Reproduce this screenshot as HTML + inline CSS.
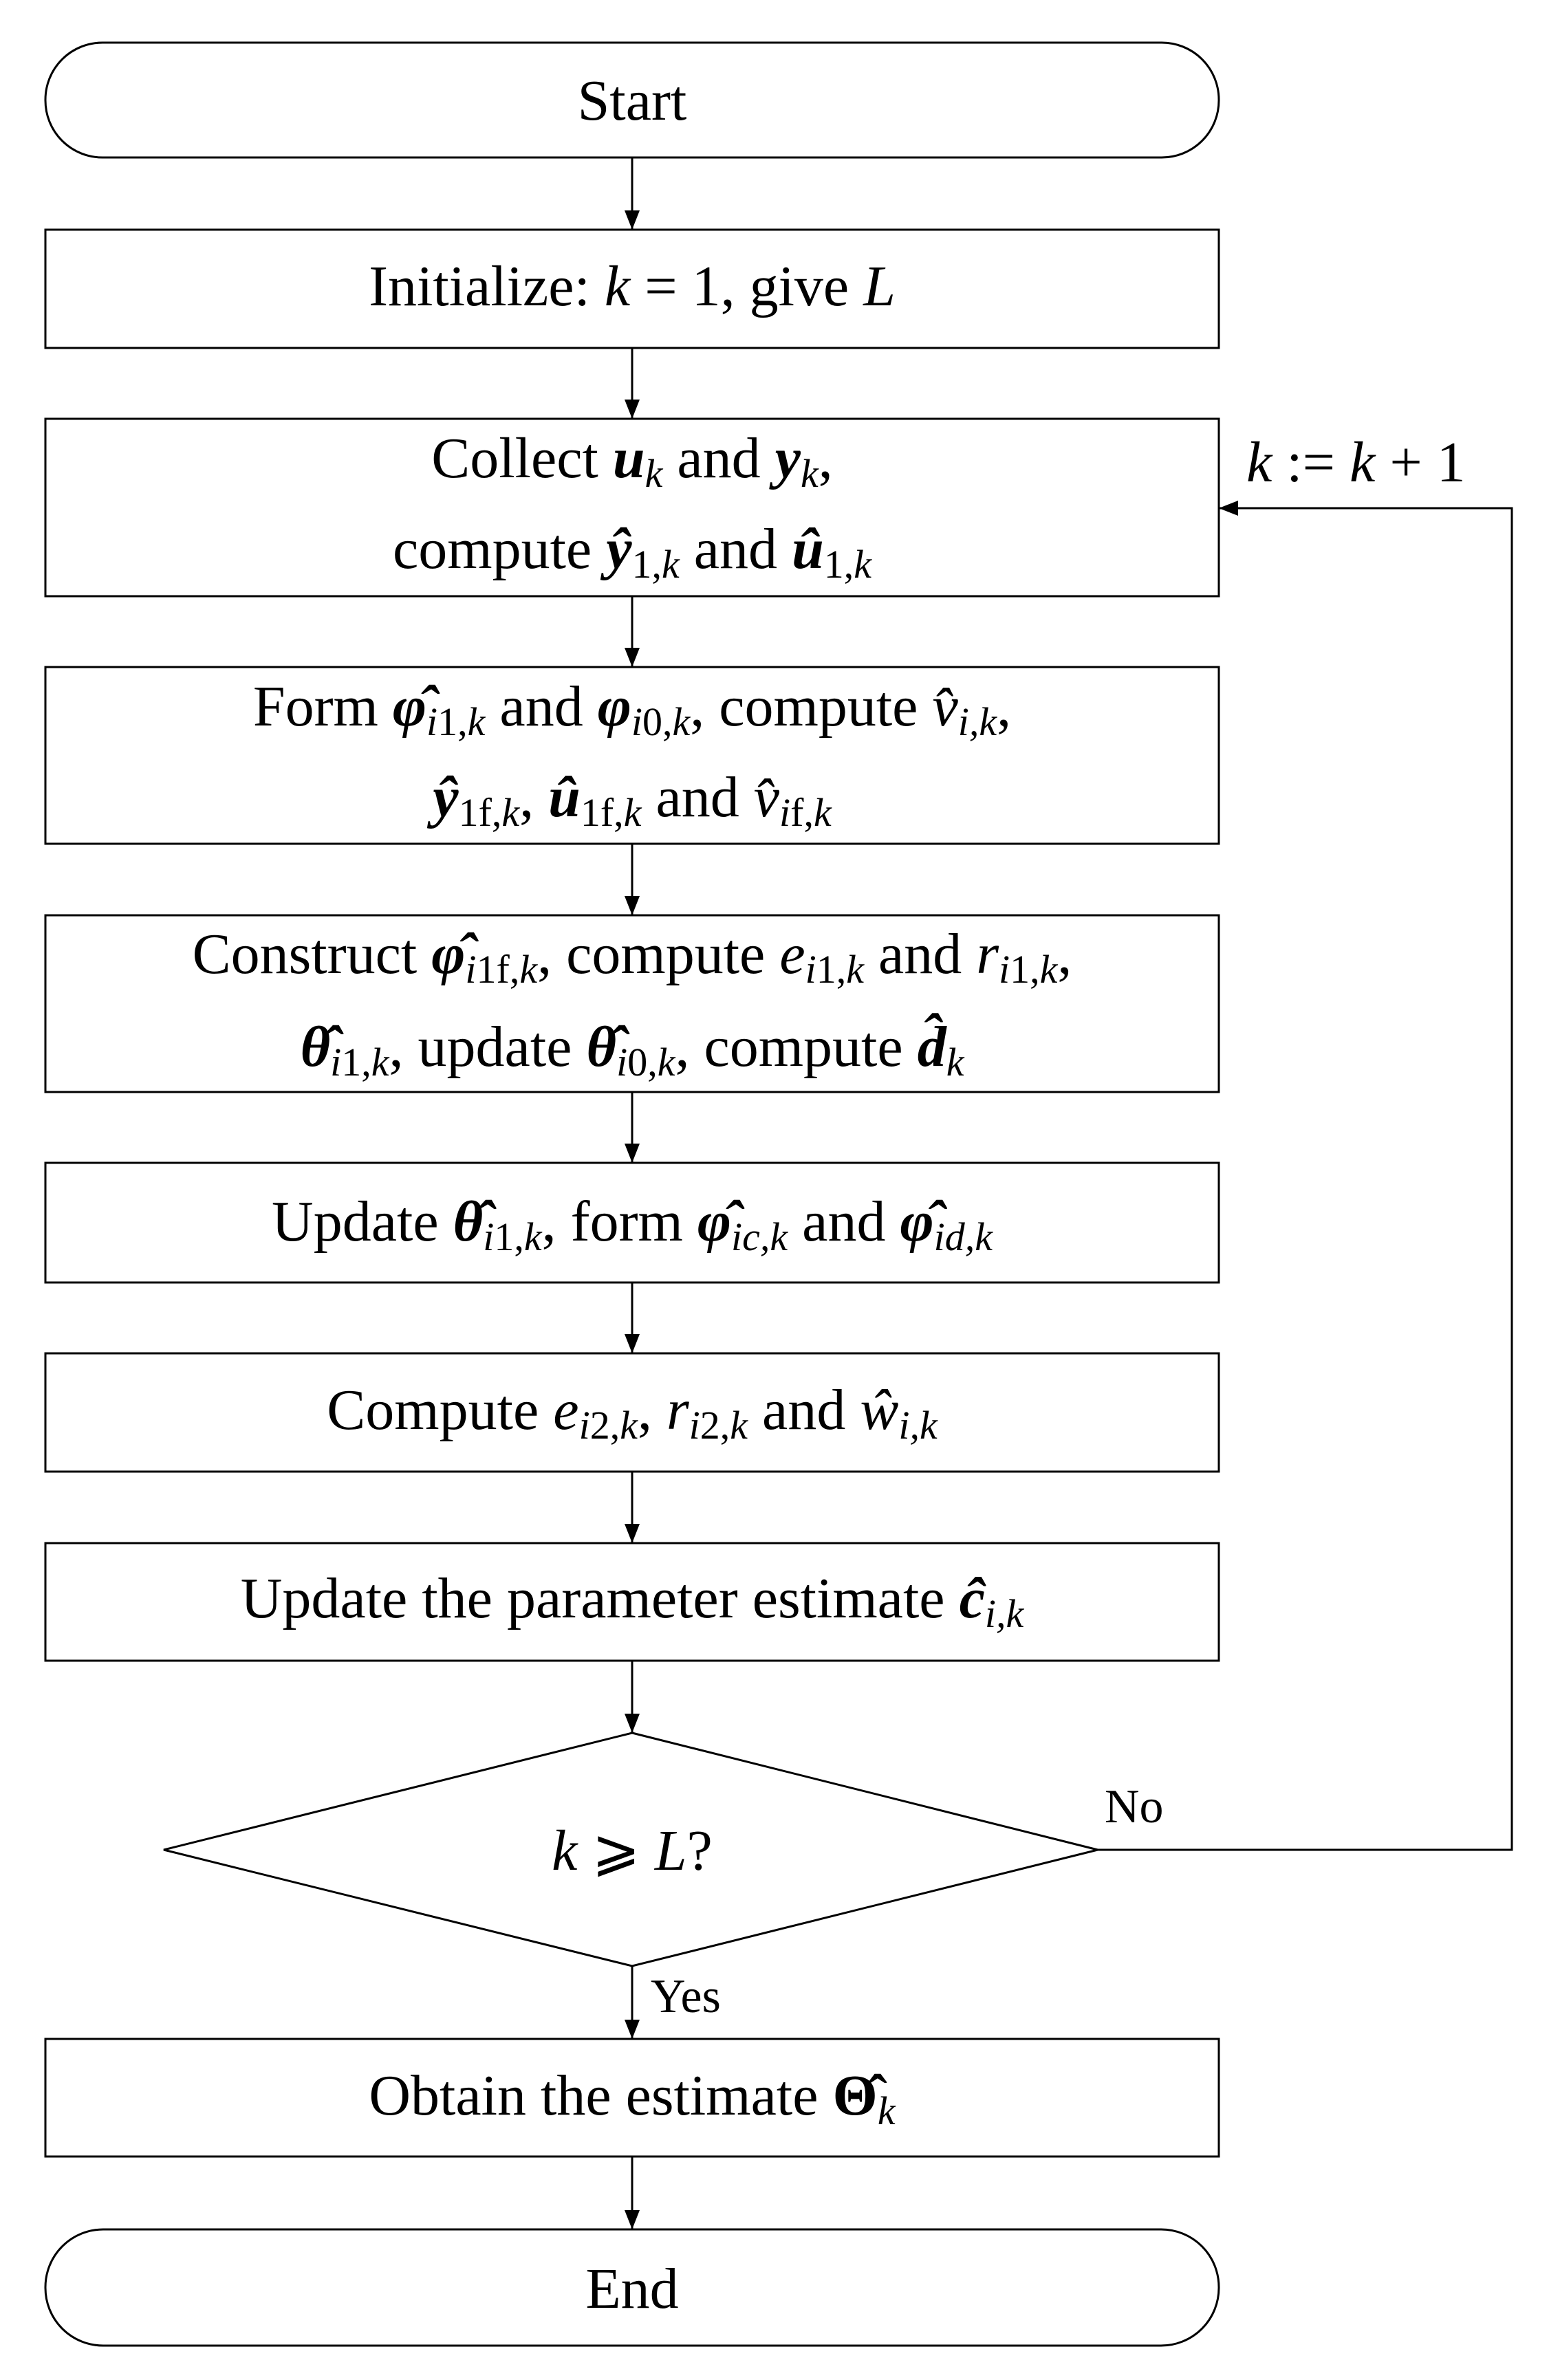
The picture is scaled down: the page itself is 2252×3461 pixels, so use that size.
<!DOCTYPE html>
<html><head><meta charset="utf-8"><style>
html,body{margin:0;padding:0;background:#fff;}
svg text{font-family:"Liberation Serif","DejaVu Serif",serif;font-size:84px;fill:#000;}
.i{font-style:italic;}
.b{font-style:italic;font-weight:bold;}
.s{font-size:58px;}
</style></head><body>
<svg width="2252" height="3456" viewBox="0 0 2252 3456" xmlns="http://www.w3.org/2000/svg">
<defs>
<marker id="ar" markerWidth="28" markerHeight="22" refX="28" refY="11" orient="auto" markerUnits="userSpaceOnUse"><path d="M0,0 L28,11 L0,22 z" fill="#000"/></marker></defs>
<g fill="none" stroke="#000" stroke-width="3">
<rect x="66" y="62" width="1706" height="167" rx="83"/>
<rect x="66" y="334" width="1706" height="172"/>
<rect x="66" y="609" width="1706" height="258"/>
<rect x="66" y="970" width="1706" height="257"/>
<rect x="66" y="1331" width="1706" height="257"/>
<rect x="66" y="1691" width="1706" height="174"/>
<rect x="66" y="1968" width="1706" height="172"/>
<rect x="66" y="2244" width="1706" height="171"/>
<polygon points="919,2520 1596,2690 919,2859 238,2690"/>
<rect x="66" y="2965" width="1706" height="171"/>
<rect x="66" y="3242" width="1706" height="169" rx="84"/>
<line x1="919" y1="229" x2="919" y2="334" marker-end="url(#ar)"/>
<line x1="919" y1="506" x2="919" y2="609" marker-end="url(#ar)"/>
<line x1="919" y1="867" x2="919" y2="970" marker-end="url(#ar)"/>
<line x1="919" y1="1227" x2="919" y2="1331" marker-end="url(#ar)"/>
<line x1="919" y1="1588" x2="919" y2="1691" marker-end="url(#ar)"/>
<line x1="919" y1="1865" x2="919" y2="1968" marker-end="url(#ar)"/>
<line x1="919" y1="2140" x2="919" y2="2244" marker-end="url(#ar)"/>
<line x1="919" y1="2415" x2="919" y2="2520" marker-end="url(#ar)"/>
<line x1="919" y1="2859" x2="919" y2="2965" marker-end="url(#ar)"/>
<line x1="919" y1="3136" x2="919" y2="3242" marker-end="url(#ar)"/>
<polyline points="1596,2690 2198,2690 2198,739 1772,739" marker-end="url(#ar)"/>
</g>
<g text-anchor="middle">
<text x="919" y="174">Start</text>
<text x="919" y="444">Initialize: <tspan class="i">k</tspan> = 1, give <tspan class="i">L</tspan></text>
<text x="919" y="694">Collect <tspan class="b">u</tspan><tspan class="i s" dy="14">k</tspan><tspan dy="-14"> and </tspan><tspan class="b">y</tspan><tspan class="i s" dy="14">k</tspan><tspan dy="-14">,</tspan></text>
<text x="919" y="826">compute <tspan class="b">ŷ</tspan><tspan class="s" dy="14">1,<tspan class="i">k</tspan></tspan><tspan dy="-14"> and </tspan><tspan class="b">û</tspan><tspan class="s" dy="14">1,<tspan class="i">k</tspan></tspan></text>
<text x="919" y="1055">Form <tspan class="b">φ̂</tspan><tspan class="s i" dy="14">i</tspan><tspan class="s">1,</tspan><tspan class="s i">k</tspan><tspan dy="-14"> and </tspan><tspan class="b">φ</tspan><tspan class="s i" dy="14">i</tspan><tspan class="s">0,</tspan><tspan class="s i">k</tspan><tspan dy="-14">, compute </tspan><tspan class="i">v̂</tspan><tspan class="s i" dy="14">i,k</tspan><tspan dy="-14">,</tspan></text>
<text x="919" y="1187"><tspan class="b">ŷ</tspan><tspan class="s" dy="14">1f,</tspan><tspan class="s i">k</tspan><tspan dy="-14">, </tspan><tspan class="b">û</tspan><tspan class="s" dy="14">1f,</tspan><tspan class="s i">k</tspan><tspan dy="-14"> and </tspan><tspan class="i">v̂</tspan><tspan class="s i" dy="14">i</tspan><tspan class="s">f,</tspan><tspan class="s i">k</tspan></text>
<text x="919" y="1415">Construct <tspan class="b">φ̂</tspan><tspan class="s i" dy="14">i</tspan><tspan class="s">1f,</tspan><tspan class="s i">k</tspan><tspan dy="-14">, compute </tspan><tspan class="i">e</tspan><tspan class="s i" dy="14">i</tspan><tspan class="s">1,</tspan><tspan class="s i">k</tspan><tspan dy="-14"> and </tspan><tspan class="i">r</tspan><tspan class="s i" dy="14">i</tspan><tspan class="s">1,</tspan><tspan class="s i">k</tspan><tspan dy="-14">,</tspan></text>
<text x="919" y="1550"><tspan class="b">θ̂</tspan><tspan class="s i" dy="14">i</tspan><tspan class="s">1,</tspan><tspan class="s i">k</tspan><tspan dy="-14">, update </tspan><tspan class="b">θ̂</tspan><tspan class="s i" dy="14">i</tspan><tspan class="s">0,</tspan><tspan class="s i">k</tspan><tspan dy="-14">, compute </tspan><tspan class="b">d̂</tspan><tspan class="s i" dy="14">k</tspan></text>
<text x="919" y="1804">Update <tspan class="b">θ̂</tspan><tspan class="s i" dy="14">i</tspan><tspan class="s">1,</tspan><tspan class="s i">k</tspan><tspan dy="-14">, form </tspan><tspan class="b">φ̂</tspan><tspan class="s i" dy="14">ic,k</tspan><tspan dy="-14"> and </tspan><tspan class="b">φ̂</tspan><tspan class="s i" dy="14">id,k</tspan></text>
<text x="919" y="2078">Compute <tspan class="i">e</tspan><tspan class="s i" dy="14">i</tspan><tspan class="s">2,</tspan><tspan class="s i">k</tspan><tspan dy="-14">, </tspan><tspan class="i">r</tspan><tspan class="s i" dy="14">i</tspan><tspan class="s">2,</tspan><tspan class="s i">k</tspan><tspan dy="-14"> and </tspan><tspan class="i">ŵ</tspan><tspan class="s i" dy="14">i,k</tspan></text>
<text x="919" y="2352">Update the parameter estimate <tspan class="b">ĉ</tspan><tspan class="s i" dy="14">i,k</tspan></text>
<text x="919" y="2719"><tspan class="i">k</tspan> ⩾ <tspan class="i">L</tspan>?</text>
<text x="919" y="3075">Obtain the estimate <tspan font-weight="bold">Θ̂</tspan><tspan class="s i" dy="14">k</tspan></text>
<text x="919" y="3356">End</text>
</g>
<text x="1812" y="700"><tspan class="i">k</tspan> := <tspan class="i">k</tspan> + 1</text>
<text x="1606" y="2650" style="font-size:70px">No</text>
<text x="946" y="2926" style="font-size:70px">Yes</text>
</svg>
</body></html>
